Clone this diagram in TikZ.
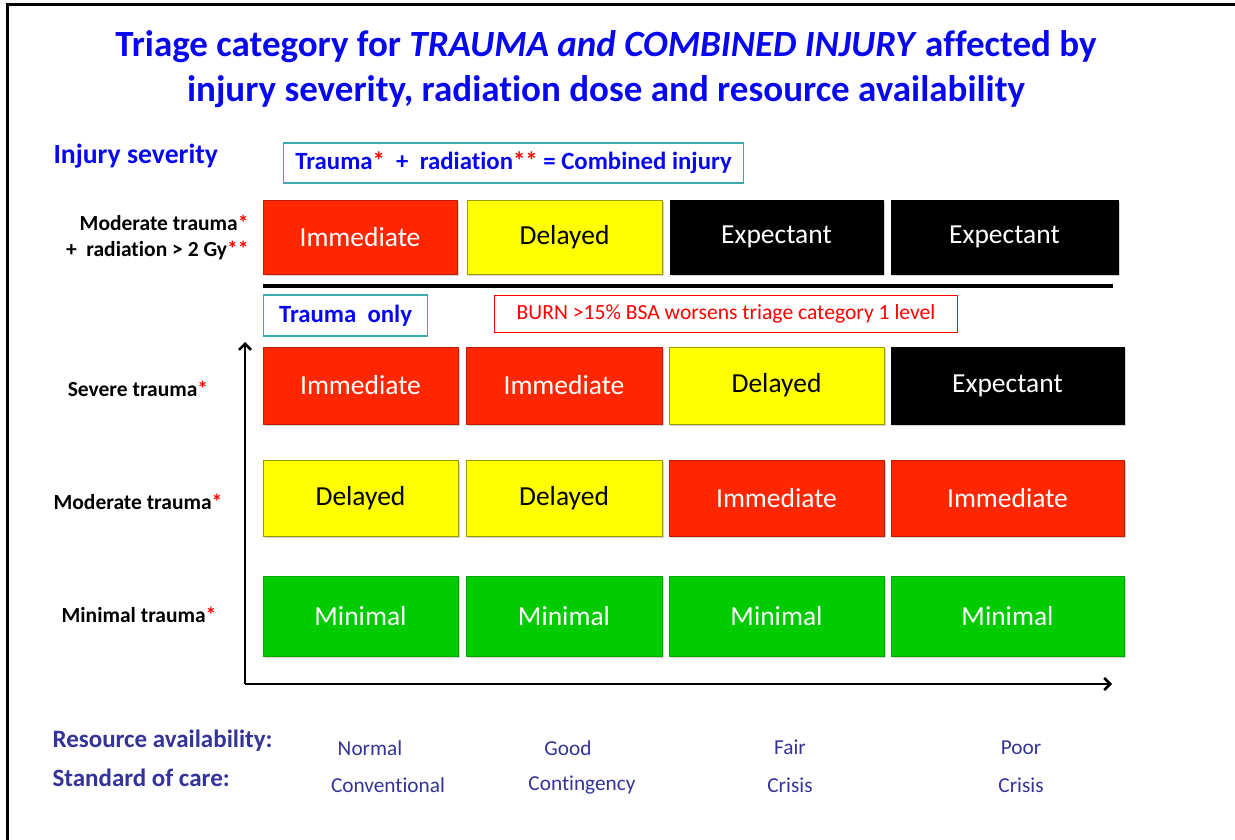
\documentclass[tikz,border=0pt]{standalone}
\usepackage{fontspec}
\setmainfont[Ligatures={NoCommon}]{Carlito}
\usetikzlibrary{shadows,arrows.meta}
\definecolor{titleblue}{RGB}{8,8,240}
\definecolor{slateblue}{RGB}{51,51,153}
\definecolor{tealline}{RGB}{60,170,170}
\definecolor{immred}{RGB}{255,38,0}
\definecolor{delyellow}{RGB}{255,255,0}
\definecolor{minigreen}{RGB}{0,204,0}
\newcommand{\redstar}[1]{\textcolor{red}{#1}}
\begin{document}
\begin{tikzpicture}[x=1pt,y=-1pt,
		cell/.style={minimum height=#1, inner sep=0pt, font=\fontsize{27.5}{32}\selectfont,
			drop shadow={opacity=0.35, shadow xshift=2pt, shadow yshift=-2pt}},
		imm/.style={cell=#1, fill=immred, draw=immred!75!black, text=white},
		del/.style={cell=#1, fill=delyellow, draw=delyellow!60!black, text=black},
		exp/.style={cell=#1, fill=black, draw=black, text=white},
		mini/.style={cell=#1, fill=minigreen, draw=minigreen!80!black, text=white},
		rowlabel/.style={align=center, font=\fontsize{21.5}{26}\selectfont\bfseries},
		note/.style={draw=tealline, line width=1.2pt, inner xsep=8pt, minimum height=40pt, text=titleblue, font=\fontsize{24.8}{28}\selectfont\bfseries},
		axislabel/.style={anchor=west, text=slateblue, font=\fontsize{25}{28}\selectfont\bfseries},
		carelabel/.style={text=slateblue, font=\fontsize{21.3}{24}\selectfont}]
		\useasboundingbox (0,0) rectangle (1235,840);
		\draw[line width=3pt] (7,840) -- (7,5) -- (1235,5);
		\node[text=titleblue, align=center, font=\fontsize{37}{45}\selectfont\bfseries] (title) at (606,69)
			{Triage category for \textit{TRAUMA and COMBINED INJURY} affected by\\injury severity, radiation dose and resource availability};
		\node[anchor=west, text=titleblue, font=\fontsize{27.7}{30}\selectfont\bfseries] (severity) at (50,156) {Injury severity};
		\node[note, anchor=west, minimum width=460pt] (combined) at (283,163) {Trauma\redstar{*}\ \ +\ \ radiation\redstar{**} = Combined injury};
		\node[rowlabel, anchor=east, align=right] (lcombined) at (252,237) {Moderate trauma\redstar{*}\\+\ \ radiation > 2 Gy\redstar{**}};
		\node[imm=74pt, minimum width=194pt] (a1) at (360,237) {Immediate};
		\node[del=74pt, minimum width=195pt] (a2) at (564.5,237) {Delayed};
		\node[exp=74pt, minimum width=213pt] (a3) at (776.5,237) {Expectant};
		\node[exp=74pt, minimum width=227pt] (a4) at (1004.5,237) {Expectant};
		\draw[line width=4pt] (263,286) -- (1113,286);
		\node[note, anchor=west, minimum height=41pt, minimum width=164pt] (only) at (263,315.5) {Trauma\ \ only};
		\node[draw=red, line width=1pt, anchor=west, minimum width=463pt, minimum height=37pt, text=red, font=\fontsize{21.6}{24}\selectfont] (burn) at (494,313.5) {BURN >15\% BSA worsens triage category 1 level};
		\node[rowlabel] (lsevere) at (138,389) {Severe trauma\redstar{*}};
		\node[imm=77pt, minimum width=195pt] (b1) at (360.5,385.5) {Immediate};
		\node[imm=77pt, minimum width=196pt] (b2) at (564,385.5) {Immediate};
		\node[del=77pt, minimum width=215pt] (b3) at (776.5,385.5) {Delayed};
		\node[exp=77pt, minimum width=233pt] (b4) at (1007.5,385.5) {Expectant};
		\node[rowlabel] (lmoderate) at (138,502) {Moderate trauma\redstar{*}};
		\node[del=76pt, minimum width=195pt] (c1) at (360.5,498) {Delayed};
		\node[del=76pt, minimum width=196pt] (c2) at (564,498) {Delayed};
		\node[imm=76pt, minimum width=215pt] (c3) at (776.5,498) {Immediate};
		\node[imm=76pt, minimum width=233pt] (c4) at (1007.5,498) {Immediate};
		\node[rowlabel] (lminimal) at (139,615) {Minimal trauma\redstar{*}};
		\node[mini=80pt, minimum width=195pt] (d1) at (360.5,616) {Minimal};
		\node[mini=80pt, minimum width=196pt] (d2) at (564,616) {Minimal};
		\node[mini=80pt, minimum width=215pt] (d3) at (776.5,616) {Minimal};
		\node[mini=80pt, minimum width=233pt] (d4) at (1007.5,616) {Minimal};
		\coordinate (O) at (245,684);
		\coordinate (ytip) at (245,342);
		\coordinate (xtip) at (1112,684);
		\draw[-{Straight Barb[length=6pt,width=12pt]}, line width=2.5pt] (O) -- (ytip);
		\draw[-{Straight Barb[length=6pt,width=12pt]}, line width=2.5pt] (O) -- (xtip);
		\node[axislabel] (resource) at (49,741) {Resource availability:};
		\node[axislabel] (standard) at (49,778) {Standard of care:};
		\node[carelabel] (normal) at (370,748) {Normal};
		\node[carelabel] (good) at (568,748) {Good};
		\node[carelabel] (fair) at (790,747) {Fair};
		\node[carelabel] (poor) at (1021,748) {Poor};
		\node[carelabel] (conventional) at (388,785) {Conventional};
		\node[carelabel] (contingency) at (582,785) {Contingency};
		\node[carelabel] (crisisa) at (790,785) {Crisis};
		\node[carelabel] (crisisb) at (1021,785) {Crisis};
	\end{tikzpicture}
\end{document}
